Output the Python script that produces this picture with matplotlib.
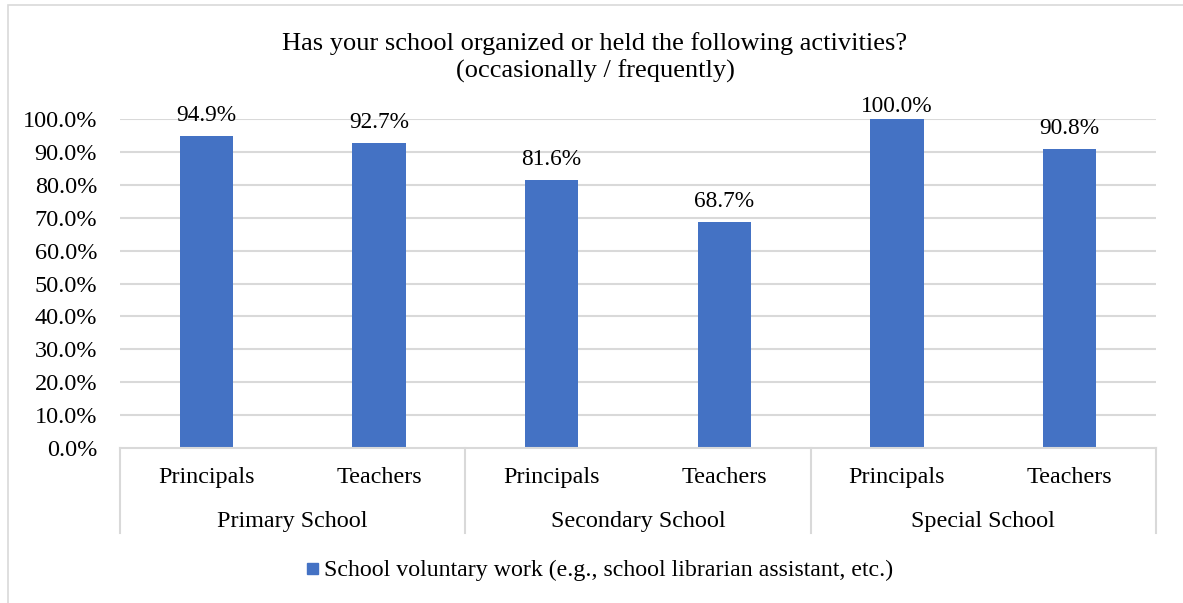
import matplotlib
matplotlib.use("Agg")
import matplotlib.pyplot as plt
from matplotlib.patches import Rectangle
import matplotlib.transforms as mtransforms

plt.rcParams['font.family'] = ['Liberation Serif', 'DejaVu Serif']

groups = ["Primary School", "Secondary School", "Special School"]
roles = ["Principals", "Teachers"]
values = [94.9, 92.7, 81.6, 68.7, 100.0, 90.8]
series_name = "School voluntary work (e.g., school librarian assistant, etc.)"
title_lines = ["Has your school organized or held the following activities?",
               "(occasionally / frequently)"]
yticks = [0, 10, 20, 30, 40, 50, 60, 70, 80, 90, 100]

BAR = "#4472C4"
GRID = "#D9D9D9"
FS_TITLE = 19
FS_TICK = 17.5
FS_LABEL = 16.8
FS_CAT = 17.4
FS_LEG = 17.2

W, H = 1183, 603
fig = plt.figure(figsize=(W / 100, H / 100), dpi=100)

# outer chart border
fig.patches.append(Rectangle((8 / W, -0.05), 1.2, 1.05 - 5 / H, transform=fig.transFigure,
                             fill=False, edgecolor=GRID, linewidth=1.2))

x0, x1, ytop, ybot = 120, 1156, 119, 448
ph = ybot - ytop
ax = fig.add_axes([x0 / W, 1 - ybot / H, (x1 - x0) / W, ph / H])
px_per_unit = ph / 100.0

xs = list(range(len(values)))
ax.bar(xs, values, width=0.31, color=BAR, zorder=3)
# value labels above bars, kept inside the chart area near the top
for x, v in zip(xs, values):
    ylab = min(v + 15 / px_per_unit, 100 + 7 / px_per_unit)
    ax.text(x, ylab, f"{v:.1f}%", ha="center", va="baseline", fontsize=FS_LABEL,
            clip_on=False)

ax.set_xlim(-0.5, len(values) - 0.5)
ax.set_ylim(0, 100)
ax.set_yticks(yticks)
ax.set_yticklabels([f"{t:.1f}%" for t in yticks], fontsize=FS_TICK)
ax.tick_params(axis="y", length=0, pad=16.5)
ax.set_xticks([])
for s in ax.spines.values():
    s.set_visible(False)
for t in yticks[1:]:
    ax.axhline(t, color=GRID, linewidth=1.5, zorder=1)

# multi-level category axis
trans = mtransforms.blended_transform_factory(ax.transData, ax.transAxes)
ax.plot([-0.5, len(values) - 0.5], [0, 0], transform=trans, color=GRID, lw=1.5,
        clip_on=False, zorder=4)
sep_bottom = -(533 - ybot) / ph
for i in range(len(groups) + 1):
    xb = -0.5 + 2 * i
    ax.plot([xb, xb], [0, sep_bottom], transform=trans, color=GRID, lw=1.5, clip_on=False)
for i, x in enumerate(xs):
    ax.text(x, -(483 - ybot) / ph, roles[i % 2], transform=trans, ha="center",
            va="baseline", fontsize=FS_CAT)
for g, name in enumerate(groups):
    ax.text(2 * g + 0.5, -(527 - ybot) / ph, name, transform=trans, ha="center",
            va="baseline", fontsize=FS_CAT)

fig.text(595 / W, 1 - 50 / H, title_lines[0], ha="center", va="baseline", fontsize=FS_TITLE)
fig.text(595 / W, 1 - 78 / H, title_lines[1], ha="center", va="baseline", fontsize=FS_TITLE)

# legend
ly = 1 - 568.5 / H
fig.patches.append(Rectangle((307 / W, ly - 5.5 / H), 11 / W, 11 / H,
                             transform=fig.transFigure, color=BAR))
fig.text(324 / W, 1 - 576 / H, series_name, ha="left", va="baseline", fontsize=FS_LEG)

fig.savefig("out.png", dpi=100)
